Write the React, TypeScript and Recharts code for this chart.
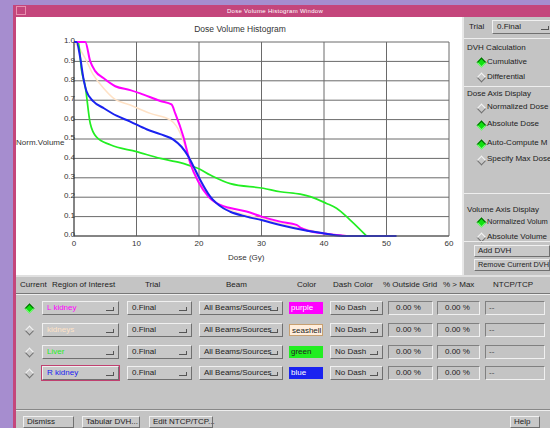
import React from 'react';
import { LineChart, Line, XAxis, YAxis, CartesianGrid } from 'recharts';

// DVH curves (dose in Gy, normalised volume)
const lKidneyDose = [0, 1.8, 2.6, 3.4, 4.7, 6.6, 9, 10.6, 13.8, 15.6, 16.2, 17.5, 18.6, 19.9, 21.5, 23.4, 25, 27.6, 30, 33, 35.6, 36.4, 37.5, 40, 43.6];
const lKidneyVol = [1, 1, 0.9, 0.85, 0.814, 0.772, 0.752, 0.735, 0.696, 0.678, 0.632, 0.512, 0.375, 0.28, 0.203, 0.16, 0.144, 0.126, 0.1, 0.074, 0.057, 0.04, 0.027, 0.013, 0];

const kidneysDose = [0, 1, 1.8, 3.1, 4.7, 6.3, 9, 12.2, 15.4, 17, 18, 19, 20, 22, 25, 30, 35, 40, 44];
const kidneysVol = [1, 0.96, 0.915, 0.83, 0.763, 0.711, 0.675, 0.632, 0.598, 0.53, 0.443, 0.36, 0.285, 0.19, 0.135, 0.09, 0.05, 0.015, 0];

const liverDose = [0, 0.7, 1.2, 1.8, 2.6, 3.6, 5.8, 10, 13.8, 17, 19.1, 19.6, 21.8, 25, 30.3, 33, 36.2, 37.8, 40.4, 42, 44.2, 46.8];
const liverVol = [1, 1, 0.856, 0.77, 0.58, 0.51, 0.47, 0.435, 0.4, 0.378, 0.357, 0.352, 0.314, 0.27, 0.246, 0.228, 0.216, 0.203, 0.168, 0.143, 0.082, 0];

const rKidneyDose = [0, 0.4, 1, 1.5, 2, 3.1, 4.7, 6.8, 9, 11.6, 13.8, 15.9, 17.2, 18.3, 19.1, 20.2, 21.8, 23.9, 25, 27.6, 30, 33, 36.7, 39.9, 43, 51.6];
const rKidneyVol = [1, 1, 0.918, 0.814, 0.746, 0.694, 0.66, 0.62, 0.59, 0.55, 0.525, 0.497, 0.46, 0.41, 0.36, 0.289, 0.203, 0.143, 0.125, 0.1, 0.082, 0.057, 0.031, 0.014, 0, 0];

const doseTicks = [0, 10, 20, 30, 40, 50, 60];
const volTicks = [0, 0.1, 0.2, 0.3, 0.4, 0.5, 0.6, 0.7, 0.8, 0.9, 1];

const roiNames = ['L kidney', 'kidneys', 'Liver', 'R kidney'];
const roiColors = ['#ff00ff', '#ffe2c6', '#22ee22', '#1a22f0'];
const colorNames = ['purple', 'seashell', 'green', 'blue'];

const toPoints = (dose: number[], vol: number[]) => dose.map((d, i) => ({ dose: d, vol: vol[i] }));

const FONT = '"Liberation Sans", Arial, sans-serif';
const PANEL = '#c4c4c4';

const raised: React.CSSProperties = {
  position: 'absolute',
  boxSizing: 'border-box',
  background: '#c8c8c8',
  borderTop: '1px solid #f0f0f0',
  borderLeft: '1px solid #f0f0f0',
  borderBottom: '1px solid #707070',
  borderRight: '1px solid #707070',
};

const sunken: React.CSSProperties = {
  ...raised,
  background: '#c4c4c4',
  borderTop: '1px solid #808080',
  borderLeft: '1px solid #808080',
  borderBottom: '1px solid #f0f0f0',
  borderRight: '1px solid #f0f0f0',
};

const Txt = ({ x, y, children, color = '#222', size = 8, style = {} }: any) => (
  <div style={{ position: 'absolute', left: x, top: y, fontSize: size, color, whiteSpace: 'nowrap', lineHeight: '10px', ...style }}>
    {children}
  </div>
);

const Diamond = ({ x, y, on }: { x: number; y: number; on: boolean }) => (
  <div
    style={{
      position: 'absolute',
      left: x,
      top: y,
      width: 5,
      height: 5,
      transform: 'rotate(45deg)',
      background: on ? '#10e010' : '#c8c8c8',
      borderTop: on ? '1px solid #006000' : '1px solid #f4f4f4',
      borderLeft: on ? '1px solid #006000' : '1px solid #f4f4f4',
      borderBottom: on ? '1px solid #80ff80' : '1px solid #707070',
      borderRight: on ? '1px solid #80ff80' : '1px solid #707070',
    }}
  />
);

const Dropdown = ({ x, y, w, h = 14, label, color = '#222', border }: any) => (
  <div style={{ ...raised, left: x, top: y, width: w, height: h, outline: border ? `1px solid ${border}` : undefined }}>
    <div style={{ position: 'absolute', left: 4, top: 1, fontSize: 8, color, lineHeight: '10px', whiteSpace: 'nowrap' }}>{label}</div>
    <div style={{ position: 'absolute', right: 4, top: 5, width: 7, height: 3, borderBottom: '1px solid #555', borderRight: '1px solid #555' }} />
  </div>
);

const Button = ({ x, y, w, h = 12, label, size = 8 }: any) => (
  <div style={{ ...raised, left: x, top: y, width: w, height: h }}>
    <div style={{ position: 'absolute', left: 3, top: 0, fontSize: size, lineHeight: '10px', whiteSpace: 'nowrap', color: '#222' }}>{label}</div>
  </div>
);

const yTick = ({ x, y, payload }: any) => (
  <text x={x + 1} y={y - 1} textAnchor="end" fontSize={8} fill="#333" fontFamily={FONT} dominantBaseline="middle">
    {Number(payload.value).toFixed(1)}
  </text>
);

const xTick = ({ x, y, payload }: any) => (
  <text x={x} y={y + 8} textAnchor="middle" fontSize={8} fill="#333" fontFamily={FONT}>
    {payload.value}
  </text>
);

const DVHChart = () => (
  <LineChart
    width={446}
    height={258}
    margin={{ top: 25, right: 13, left: 38, bottom: 19 }}
    style={{ position: 'absolute', left: 16, top: 17, fontFamily: FONT }}
  >
    <CartesianGrid stroke="#6a6a6a" strokeWidth={1} />
    <XAxis
      dataKey="dose"
      type="number"
      domain={[0, 60]}
      ticks={doseTicks}
      interval={0}
      tickLine={false}
      tickSize={0}
      height={20}
      axisLine={{ stroke: '#555' }}
      tick={xTick}
      allowDuplicatedCategory={false}
    />
    <YAxis
      type="number"
      domain={[0, 1]}
      ticks={volTicks}
      interval={0}
      tickLine={false}
      tickSize={0}
      tickMargin={0}
      width={20}
      axisLine={{ stroke: '#555' }}
      tick={yTick}
    />
    <Line data={toPoints(kidneysDose, kidneysVol)} dataKey="vol" type="monotone" stroke={roiColors[1]} strokeWidth={1.5} dot={false} isAnimationActive={false} />
    <Line data={toPoints(liverDose, liverVol)} dataKey="vol" type="monotone" stroke={roiColors[2]} strokeWidth={1.7} dot={false} isAnimationActive={false} />
    <Line data={toPoints(lKidneyDose, lKidneyVol)} dataKey="vol" type="monotone" stroke={roiColors[0]} strokeWidth={2} dot={false} isAnimationActive={false} />
    <Line data={toPoints(rKidneyDose, rKidneyVol)} dataKey="vol" type="monotone" stroke={roiColors[3]} strokeWidth={2} dot={false} isAnimationActive={false} />
  </LineChart>
);

export default function App() {
  const rowTops = [301, 323, 345, 366];
  return (
    <div style={{ position: 'fixed', left: 0, top: 0, width: 550, height: 428, overflow: 'hidden', background: '#a68dcf', fontFamily: FONT }}>
      {/* window frame */}
      <div style={{ position: 'absolute', left: 13, top: 5, width: 545, height: 430, background: '#c4467c' }} />
      <div style={{ position: 'absolute', left: 16, top: 6, width: 10, height: 9, border: '1px solid #e890b0', boxSizing: 'border-box' }} />
      <Txt x={0} y={6} color="#fff" size={6} style={{ width: 550, textAlign: 'center', letterSpacing: 0.3 }}>
        Dose Volume Histogram Window
      </Txt>

      {/* plot area */}
      <div style={{ position: 'absolute', left: 16, top: 17, width: 446, height: 258, background: '#fff' }} />
      <Txt x={180} y={24} size={8.5} color="#333" style={{ width: 120, textAlign: 'center' }}>Dose Volume Histogram</Txt>
      <Txt x={16} y={138} size={8} color="#333">Norm.Volume</Txt>
      <Txt x={228} y={253} size={8} color="#333">Dose (Gy)</Txt>
      <DVHChart />

      {/* right control panel */}
      <div style={{ position: 'absolute', left: 462, top: 17, width: 88, height: 258, background: PANEL, borderLeft: '2px solid #e8e8e8', boxSizing: 'border-box' }} />
      <Txt x={469} y={22}>Trial</Txt>
      <Dropdown x={492} y={20} w={62} label="0.Final" />
      <div style={{ position: 'absolute', left: 464, top: 38, width: 86, height: 1, background: '#eee' }} />
      <Txt x={467} y={43}>DVH Calculation</Txt>
      <Diamond x={478} y={59} on />
      <Txt x={487} y={57}>Cumulative</Txt>
      <Diamond x={478} y={74} on={false} />
      <Txt x={487} y={72}>Differential</Txt>
      <div style={{ position: 'absolute', left: 464, top: 86, width: 86, height: 1, background: '#eee' }} />
      <Txt x={467} y={89}>Dose Axis Display</Txt>
      <Diamond x={478} y={105} on={false} />
      <Txt x={487} y={102}>Normalized Dose</Txt>
      <Diamond x={478} y={122} on />
      <Txt x={487} y={119}>Absolute Dose</Txt>
      <Diamond x={478} y={141} on />
      <Txt x={487} y={138}>Auto-Compute M</Txt>
      <Diamond x={478} y={157} on={false} />
      <Txt x={487} y={154}>Specify Max Dose</Txt>
      <div style={{ position: 'absolute', left: 464, top: 193, width: 86, height: 1, background: '#eee' }} />
      <Txt x={467} y={205}>Volume Axis Display</Txt>
      <Diamond x={478} y={219} on />
      <Txt x={487} y={217} size={7.5}>Normalized Volum</Txt>
      <Diamond x={478} y={234} on={false} />
      <Txt x={487} y={232}>Absolute Volume</Txt>
      <div style={{ position: 'absolute', left: 464, top: 241, width: 86, height: 1, background: '#eee' }} />
      <Button x={474} y={245} w={76} label="Add DVH" />
      <Button x={474} y={259} w={76} size={7.3} label="Remove Current DVH" />

      {/* ROI table */}
      <div style={{ position: 'absolute', left: 16, top: 275, width: 534, height: 153, background: PANEL, borderTop: '2px solid #e0e0e0', boxSizing: 'border-box' }} />
      <Txt x={20} y={280}>Current</Txt>
      <Txt x={52} y={280}>Region of Interest</Txt>
      <Txt x={145} y={280}>Trial</Txt>
      <Txt x={226} y={280}>Beam</Txt>
      <Txt x={297} y={280}>Color</Txt>
      <Txt x={333} y={280}>Dash Color</Txt>
      <Txt x={383} y={280}>% Outside Grid</Txt>
      <Txt x={443} y={280}>% &gt; Max</Txt>
      <Txt x={493} y={280}>NTCP/TCP</Txt>
      <div style={{ position: 'absolute', left: 16, top: 293, width: 534, height: 1, background: '#777' }} />
      <div style={{ position: 'absolute', left: 16, top: 294, width: 534, height: 1, background: '#eee' }} />

      {rowTops.map((t, i) => (
        <React.Fragment key={roiNames[i]}>
          <Diamond x={26} y={t + 4} on={i === 0} />
          <Dropdown x={42} y={t} w={77} label={roiNames[i]} color={roiColors[i]} border={i === 3 ? '#c04070' : undefined} />
          <Dropdown x={127} y={t} w={65} label="0.Final" />
          <Dropdown x={199} y={t} w={84} label="All Beams/Sources" />
          <div style={{ position: 'absolute', left: 289, top: t + 1, width: 34, height: 12, background: i === 1 ? '#ffeedd' : roiColors[i], border: i === 1 ? '1px solid #c8a070' : 'none', boxSizing: 'border-box' }}>
            <div style={{ position: 'absolute', left: 2, top: 1, fontSize: 8, lineHeight: '10px', color: i === 0 || i === 3 ? '#fff' : '#222' }}>{colorNames[i]}</div>
          </div>
          <Dropdown x={330} y={t} w={53} label="No Dash" />
          <div style={{ ...sunken, left: 388, top: t, width: 45, height: 14 }}>
            <div style={{ position: 'absolute', left: 7, top: 1, fontSize: 8, lineHeight: '10px', color: '#222' }}>0.00 %</div>
          </div>
          <div style={{ ...sunken, left: 437, top: t, width: 43, height: 14 }}>
            <div style={{ position: 'absolute', left: 7, top: 1, fontSize: 8, lineHeight: '10px', color: '#222' }}>0.00 %</div>
          </div>
          <div style={{ ...sunken, left: 485, top: t, width: 60, height: 14 }}>
            <div style={{ position: 'absolute', left: 3, top: 1, fontSize: 8, lineHeight: '10px', color: '#444' }}>--</div>
          </div>
        </React.Fragment>
      ))}

      <div style={{ position: 'absolute', left: 16, top: 409, width: 534, height: 1, background: '#888' }} />
      <div style={{ position: 'absolute', left: 16, top: 410, width: 534, height: 1, background: '#eee' }} />
      <Button x={23} y={416} w={51} label="Dismiss" />
      <Button x={82} y={416} w={58} label="Tabular DVH..." />
      <Button x={149} y={416} w={64} label="Edit NTCP/TCP..." />
      <Button x={510} y={416} w={30} label="Help" />
    </div>
  );
}
